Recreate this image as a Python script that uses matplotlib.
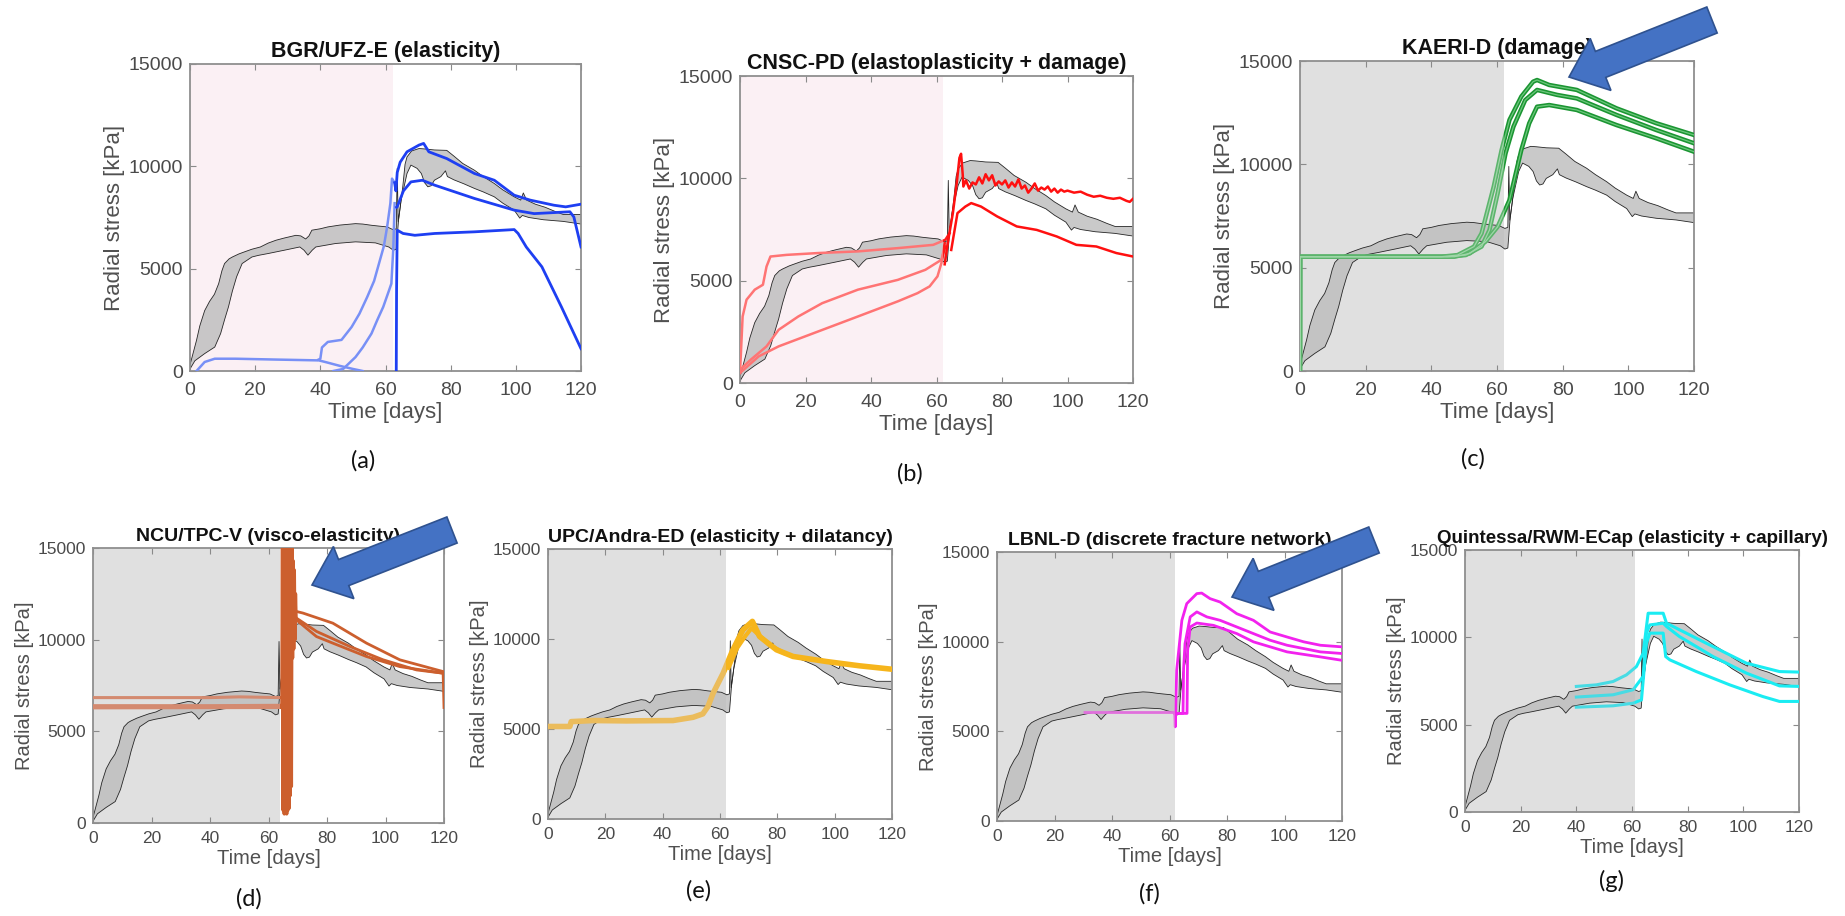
import matplotlib
matplotlib.use("Agg")
import matplotlib.pyplot as plt
from matplotlib.patches import Rectangle, FancyArrow
from matplotlib.transforms import IdentityTransform

W, H = 1845, 916
plt.rcParams['font.family'] = ['Liberation Sans', 'DejaVu Sans']

x_ticks = [0, 20, 40, 60, 80, 100, 120]
y_ticks = [0, 5000, 10000, 15000]

# ---- measured radial stress envelope (upper / lower bound) ----
env_up_t = [0, 1, 2, 3, 4.5, 6, 7.5, 8.8, 9.8, 10.6, 12, 13, 15, 16.7, 19, 21.6, 24, 26.4, 29, 32.5,
            34, 35.5, 36.5, 37.4, 40, 42.3, 46, 50.8, 53, 55.7, 58, 60.5, 62.4, 63.3, 63.6, 63.9, 64.5,
            65.3, 66, 66.6, 68, 70.3, 72, 75, 78.8, 81, 83.7, 87.3, 90, 93.4, 96, 99.5, 101.5, 102.3,
            103.3, 106, 109, 112, 114.5, 117, 120]
env_up_v = [300, 900, 1500, 2200, 2950, 3400, 3750, 4270, 4900, 5250, 5480, 5570, 5720, 5820, 5950,
            6060, 6250, 6390, 6500, 6630, 6600, 6450, 6600, 6880, 6950, 7040, 7130, 7200, 7180, 7120,
            7080, 7040, 6900, 6950, 9900, 7300, 8000, 9000, 10100, 10460, 10750, 10870, 10850, 10800,
            10780, 10500, 10140, 9810, 9500, 9160, 8850, 8510, 8350, 8700, 8350, 8150, 8000, 7800,
            7650, 7650, 7650]
env_lo_t = [0, 1.5, 4.5, 7.6, 9.4, 10.6, 11.8, 13, 14.3, 16, 19, 21, 24, 28.9, 33.7, 35, 36.2, 37.5,
            38.6, 44.7, 50.8, 56.9, 61, 62.4, 63.3, 64, 64.8, 66.6, 67.8, 69.7, 71, 72, 73, 74, 75, 77,
            78.4, 79, 81, 84, 87.3, 90, 93.4, 96, 99.5, 101.2, 102, 104, 108.5, 114.5, 120]
env_lo_v = [100, 500, 850, 1170, 1830, 2500, 3130, 3900, 4600, 5250, 5570, 5650, 5740, 5900, 6060,
            5900, 5660, 5900, 6060, 6230, 6310, 6260, 6060, 5900, 5950, 7370, 8350, 9650, 10060, 9900,
            9650, 9200, 9000, 9050, 9320, 9500, 9780, 9500, 9340, 9150, 8920, 8750, 8510, 8200, 7860,
            7470, 7600, 7500, 7390, 7310, 7180]

# ---- (a) BGR/UFZ-E ----
a_lb1_t = [2, 4.5, 7.6, 14, 26, 39, 40, 40.5, 42.3, 46.5, 49.6, 52, 54.4, 56.5, 58, 59.5, 60.5, 61.5, 62, 62.8]
a_lb1_v = [0, 440, 600, 600, 560, 520, 600, 1150, 1420, 1520, 2150, 2800, 3620, 4400, 5250, 6100, 7040, 8200, 9400, 9200]
a_lb2_t = [39.5, 42, 46, 50, 53]
a_lb2_v = [520, 420, 250, 100, 0]
a_lb3_t = [44, 47, 50.8, 53, 55.7, 57.5, 59.3, 61, 61.8, 62.4, 62.8]
a_lb3_v = [0, 100, 680, 1150, 1830, 2500, 3130, 3900, 4270, 6000, 8200]
a_db1_t = [62.8, 63.2, 63.6, 64.5, 66.6, 70.3, 71.7, 73.3, 78.8, 87.3, 93.4, 99.5, 104.4, 111.7, 115.3, 120]
a_db1_v = [9200, 8800, 9700, 10200, 10710, 11040, 11120, 10710, 10380, 9650, 9320, 8590, 8350, 8100, 8020, 8150]
a_db2_t = [63.4, 63.6, 65.5, 67.8, 71.3, 75.1, 87.3, 99.5, 105.6, 116.6, 117.8, 120]
a_db2_v = [8000, 8020, 8800, 9240, 9320, 9080, 8430, 7860, 7690, 7780, 7530, 6060]
a_db3_t = [63.3, 63.4, 63.6, 65.4, 69, 75.1, 87.3, 99.5, 100.7, 103.2, 108, 114, 120]
a_db3_v = [0, 4000, 6880, 6720, 6630, 6720, 6800, 6910, 6720, 6060, 5090, 3130, 1090]

# ---- (b) CNSC-PD ----
b_lr1_t = [0, 0.8, 2, 4.5, 7, 8.1, 9.3, 14.2, 23.9, 36, 48.2, 59, 62.7, 64]
b_lr1_v = [490, 3250, 4070, 4560, 4800, 5690, 6180, 6260, 6350, 6430, 6590, 6750, 7000, 7320]
b_lr2_t = [0, 3.3, 8.1, 11.8, 17.8, 25.1, 36, 48.2, 56.6, 61.5, 62.7]
b_lr2_v = [650, 1140, 1790, 2600, 3250, 3900, 4560, 5040, 5530, 6020, 6670]
b_lr3_t = [0, 5.7, 11.8, 23.9, 36, 48.2, 54.2, 57.9, 60.3, 61.5, 62.5]
b_lr3_v = [490, 1300, 1790, 2520, 3250, 3990, 4390, 4720, 5210, 5860, 6830]
b_r1_t = [62.5, 63.5, 65, 66.2, 67, 67.5, 68, 68.2, 69, 70, 71, 72, 73, 74, 75, 76, 77, 78, 79, 80,
          81, 82, 83, 84, 85, 86, 87, 88, 89, 90, 91, 92, 93, 94, 95, 96, 97, 98, 99, 100,
          102, 104, 106, 108, 110, 112, 114, 116, 118, 119, 120]
b_r1_v = [5800, 6900, 8300, 9800, 11000, 11200, 10200, 9600, 9900, 9500, 9800, 9700, 10050, 9750,
          10200, 9900, 10150, 9650, 9850, 9700, 9900, 9550, 9800, 9600, 9950, 9500, 9650, 9300, 9500,
          9750, 9400, 9550, 9450, 9600, 9350, 9500, 9300, 9450, 9350, 9400,
          9300, 9350, 9200, 9100, 9150, 9050, 9000, 9050, 8900, 8850, 9000]
b_r2_t = [64.5, 66.4, 68.8, 70.6, 73.6, 78.5, 84.5, 90.6, 96.7, 102.7, 108.8, 114.9, 120]
b_r2_v = [6500, 8300, 8620, 8790, 8620, 8140, 7650, 7480, 7160, 6750, 6670, 6350, 6180]

# ---- (c) KAERI-D ----
c_g1_t = [0, 0.05, 43, 48, 53, 55.3, 59, 61.4, 63.8, 67.4, 71, 72.2, 75.9, 84.3, 96.4, 108.5, 120]
c_g1_v = [0, 5530, 5530, 5610, 6020, 6660, 8920, 10690, 12150, 13280, 14000, 14080, 13840, 13600, 12710, 11990, 11420]
c_g2_t = [0, 0.05, 45, 50.5, 55.3, 57.7, 60.2, 62.6, 65, 68.6, 72.2, 78.3, 84.3, 96.4, 108.5, 120]
c_g2_v = [0, 5530, 5530, 5610, 6020, 6820, 8600, 10530, 11820, 13110, 13600, 13360, 13190, 12390, 11660, 11020]
c_g3_t = [0, 0.05, 47, 51.7, 56.5, 60.2, 63.8, 67.4, 69.8, 72.2, 75.9, 84.3, 96.4, 108.5, 120]
c_g3_v = [0, 5530, 5530, 5690, 6260, 6980, 8270, 10690, 11980, 12790, 12870, 12630, 11900, 11260, 10610]

# ---- (d) NCU/TPC-V ----
d_o1_t = [0, 40, 50, 64.5]
d_o1_v = [6840, 6840, 6880, 6840]
d_o2_t = [0, 40, 64.5]
d_o2_v = [6400, 6400, 6420]
d_o3_t = [0, 64.5]
d_o3_v = [6280, 6300]
d_osc_t = [64.6, 64.8, 65.0, 65.2, 65.4, 65.6, 65.8, 66.0, 66.2, 66.4, 66.6, 66.8, 67.0, 67.2, 67.4,
           67.6, 67.8, 68.0, 68.2, 68.4, 68.6, 68.8, 69.0, 69.2, 69.4]
d_osc_v = [6400, 15500, 700, 15500, 500, 15500, 600, 15500, 500, 15500, 700, 15500, 800, 15500, 1500,
           15500, 2000, 15000, 9000, 14300, 9500, 13800, 10000, 12500, 11200]
d_o4_t = [69.5, 71.8, 82, 93.5, 104.9, 119.7]
d_o4_v = [11540, 11450, 10900, 9810, 8900, 8260]
d_o5_t = [69.5, 76.4, 87.8, 99.2, 110.6, 119.7]
d_o5_v = [11180, 10450, 9630, 8900, 8350, 8170]
d_o6_t = [69.5, 76.4, 82, 93.5, 104.9, 119.7, 120]
d_o6_v = [11080, 10170, 9810, 9080, 8530, 8170, 6300]

# ---- (e) UPC/Andra-ED ----
e_y1_t = [0, 7.6, 8.1, 15.7, 27.3, 43.6, 50.6, 54, 55.8, 57.6, 61.1, 64.5, 68, 71.3, 73.8, 79.7, 85.5, 97.1, 108.7, 120]
e_y1_v = [5140, 5140, 5410, 5470, 5450, 5470, 5650, 5840, 6250, 6990, 8100, 9400, 10510, 10980, 10140, 9400, 9030, 8750, 8510, 8320]
e_y2_t = [63, 66, 69, 71, 73, 77, 82]
e_y2_v = [8400, 9500, 10200, 10600, 10300, 9700, 9250]

# ---- (f) LBNL-D ----
f_m1_t = [30.6, 61.8, 62, 62.5, 64.3, 66, 69.5, 71.2, 74.1, 77.6, 83.4, 89.2, 95, 100.9, 106.7, 112.5, 120]
f_m1_v = [6050, 6050, 5250, 8410, 11190, 12120, 12680, 12710, 12400, 12210, 11560, 11190, 10540, 10260, 9990, 9800, 9710]
f_m2_t = [61.8, 64.7, 64.9, 65.4, 67.2, 69.5, 73, 77.6, 83.4, 89.2, 95, 100.9, 112.5, 120]
f_m2_v = [6000, 6000, 8500, 9890, 11380, 11660, 11380, 11190, 10820, 10450, 10080, 9800, 9430, 9340]
f_m3_t = [61.8, 66.1, 66.3, 67.2, 69.5, 75.3, 83.4, 89.2, 100.9, 112.5, 120]
f_m3_v = [6000, 6000, 9500, 10820, 11040, 10910, 10450, 9990, 9430, 9150, 8960]

# ---- (g) Quintessa/RWM-ECap ----
g_c1_t = [40, 47.2, 53.2, 58, 61.6, 64, 65.8, 67, 71.2, 72.4, 77.1, 89.1, 101.1, 113, 120]
g_c1_v = [7190, 7280, 7470, 7850, 8330, 9090, 11380, 11380, 11380, 10810, 10430, 9470, 8520, 8040, 8010]
g_c2_t = [40, 53.2, 60.4, 64, 65.2, 66.4, 71.2, 72.4, 77.1, 89.1, 101.1, 113, 120]
g_c2_v = [6580, 6710, 7000, 7760, 10240, 10710, 10810, 10620, 10040, 8900, 7950, 7220, 7190]
g_c3_t = [40, 53.2, 60.4, 63.4, 65.2, 66.4, 71.2, 72.1, 73.6, 83.1, 95.1, 107, 113, 120]
g_c3_v = [6000, 6080, 6230, 6420, 9660, 10240, 10240, 8900, 8710, 8040, 7280, 6610, 6330, 6330]

fig = plt.figure(figsize=(W / 100, H / 100), dpi=100)
fig.patch.set_facecolor('white')


def make_axes(x0, y0, x1, y1):
    return fig.add_axes([x0 / W, 1 - y1 / H, (x1 - x0) / W, (y1 - y0) / H])


def style(ax, title, tsize, fsize, lsize, xpad):
    ax.set_xlim(0, 120)
    ax.set_ylim(0, 15000)
    ax.set_xticks(x_ticks)
    ax.set_yticks(y_ticks)
    ax.tick_params(direction='in', top=True, right=True, length=4, width=0.8,
                   color='#8a8a8a', labelcolor='#4a4a4a', labelsize=fsize)
    ax.tick_params(axis='x', pad=xpad)
    ax.tick_params(axis='y', pad=5)
    for s in ax.spines.values():
        s.set_color('#8f8f8f')
        s.set_linewidth(1.3)
    ax.set_xlabel('Time [days]', fontsize=lsize, color='#505050', labelpad=2)
    ax.set_ylabel('Radial stress [kPa]', fontsize=lsize, color='#505050', labelpad=3)
    ax.set_title(title, fontsize=tsize, fontweight='bold', color='#111111', pad=5)


def background(ax, t_end, color):
    ax.axvspan(0, t_end, color=color, lw=0, zorder=0)
    ax.fill(env_up_t + env_lo_t[::-1], env_up_v + env_lo_v[::-1],
            color='#bcbcbc', alpha=0.8, lw=0, zorder=1)
    ax.plot(env_up_t, env_up_v, color='#262626', lw=0.6, zorder=2)
    ax.plot(env_lo_t, env_lo_v, color='#262626', lw=0.6, zorder=2)


def split_line(ax, t, v, split, c_early, c_late, lw, z=4):
    for c, xa, xb in ((c_early, 0, split), (c_late, split, 120)):
        ln, = ax.plot(t, v, color=c, lw=lw, zorder=z, solid_joinstyle='round')
        ln.set_clip_path(Rectangle((xa, 0), xb - xa, 15000, transform=ax.transData))


# (a)
ax = make_axes(190, 64, 581, 371)
background(ax, 62.4, '#fbf0f4')
for t, v in ((a_lb1_t, a_lb1_v), (a_lb2_t, a_lb2_v), (a_lb3_t, a_lb3_v)):
    ax.plot(t, v, color='#7890f6', lw=1.8, zorder=4)
for t, v in ((a_db1_t, a_db1_v), (a_db2_t, a_db2_v), (a_db3_t, a_db3_v)):
    ax.plot(t, v, color='#1e3ff2', lw=2.0, zorder=5)
style(ax, 'BGR/UFZ-E (elasticity)', 15.5, 14, 16, 8)

# (b)
ax = make_axes(740, 76, 1133, 383)
background(ax, 62.1, '#fbf0f4')
for t, v in ((b_lr1_t, b_lr1_v), (b_lr2_t, b_lr2_v), (b_lr3_t, b_lr3_v)):
    split_line(ax, t, v, 62.1, '#ff7474', '#ff1a1a', 1.8)
for t, v in ((b_r1_t, b_r1_v), (b_r2_t, b_r2_v)):
    split_line(ax, t, v, 62.1, '#ff7474', '#ff1010', 1.8, z=5)
style(ax, 'CNSC-PD (elastoplasticity + damage)', 15.5, 14, 16, 8)

# (c)
ax = make_axes(1300, 61, 1694, 371)
background(ax, 62.2, '#e0e0e0')
for t, v in ((c_g1_t, c_g1_v), (c_g2_t, c_g2_v), (c_g3_t, c_g3_v)):
    split_line(ax, t, v, 62.2, '#5cb46c', '#1b9532', 3.2)
    split_line(ax, t, v, 62.2, '#9fd6a8', '#6cc77c', 0.9, z=5)
style(ax, 'KAERI-D (damage)', 15.5, 14, 16, 8)

# (d)
ax = make_axes(93, 548, 444, 823)
background(ax, 63.8, '#e0e0e0')
for t, v in ((d_o1_t, d_o1_v), (d_o2_t, d_o2_v), (d_o3_t, d_o3_v)):
    split_line(ax, t, v, 63.8, '#d48a70', '#cc5f2e', 2.2)
split_line(ax, d_osc_t, d_osc_v, 63.8, '#d48a70', '#cc5f2e', 2.5)
for t, v in ((d_o4_t, d_o4_v), (d_o5_t, d_o5_v), (d_o6_t, d_o6_v)):
    split_line(ax, t, v, 63.8, '#d48a70', '#cc5f2e', 2.0)
style(ax, 'NCU/TPC-V (visco-elasticity)', 14, 12.5, 14.5, 6)

# (e)
ax = make_axes(548, 549, 892, 819)
background(ax, 62.2, '#e0e0e0')
split_line(ax, e_y1_t, e_y1_v, 62.2, '#ebbc5c', '#f6b51c', 4.0)
split_line(ax, e_y2_t, e_y2_v, 62.2, '#ebbc5c', '#f6b51c', 3.0)
style(ax, 'UPC/Andra-ED (elasticity + dilatancy)', 14, 12.5, 14.5, 6)

# (f)
ax = make_axes(997, 552, 1342, 821)
background(ax, 61.9, '#e0e0e0')
for t, v in ((f_m1_t, f_m1_v), (f_m2_t, f_m2_v), (f_m3_t, f_m3_v)):
    split_line(ax, t, v, 61.9, '#e070dc', '#f222ee', 2.0)
style(ax, 'LBNL-D (discrete fracture network)', 14, 12.5, 14.5, 6)

# (g)
ax = make_axes(1465, 550, 1799, 812)
background(ax, 61.0, '#e0e0e0')
for t, v in ((g_c1_t, g_c1_v), (g_c2_t, g_c2_v), (g_c3_t, g_c3_v)):
    split_line(ax, t, v, 61.0, '#48dbe4', '#1aecf2', 2.2)
style(ax, 'Quintessa/RWM-ECap (elasticity + capillary)', 13.5, 12.5, 14.5, 6)

# panel letters
for lab, x, y in (('(a)', 363, 461), ('(b)', 910, 474), ('(c)', 1473, 459), ('(d)', 249, 899),
                  ('(e)', 699, 891), ('(f)', 1149, 894), ('(g)', 1612, 881)):
    fig.text(x / W, 1 - y / H, lab, ha='center', va='center', fontsize=17,
             family=['Lato', 'DejaVu Sans'], color='#111111')


# highlight arrows
def block_arrow(tail, tip):
    (x0, y0), (x1, y1) = tail, tip
    arr = FancyArrow(x0, H - y0, x1 - x0, -(y1 - y0), width=28, head_width=56, head_length=34,
                     length_includes_head=True, transform=IdentityTransform(),
                     facecolor='#4472c4', edgecolor='#2f528f', lw=1.2, zorder=20)
    fig.add_artist(arr)


block_arrow((1712, 20), (1569, 77))
block_arrow((452, 530), (312, 585))
block_arrow((1374, 540), (1232, 597))

fig.savefig('out.png', dpi=100)
